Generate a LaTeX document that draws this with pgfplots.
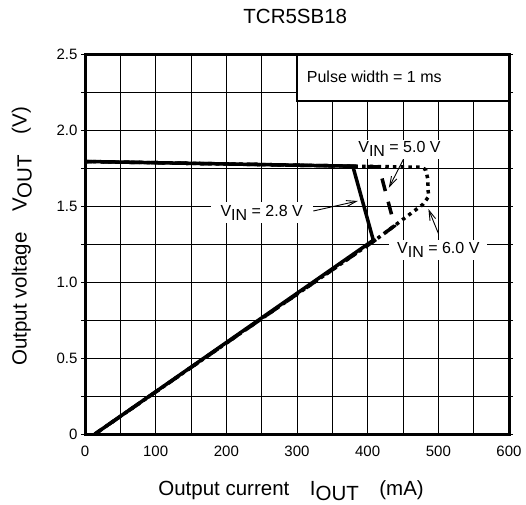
\documentclass[border=0pt]{standalone}
\usepackage{pgfplots}
\pgfplotsset{compat=1.18}
\usepackage{fontspec}
\setmainfont{Liberation Sans}
\usetikzlibrary{arrows.meta}

% lowered subscript, same size as in the datasheet
\newcommand{\lo}[1]{\raisebox{-0.25em}{#1}}

\begin{document}
\begin{tikzpicture}
\path[use as bounding box] (-85pt,-70pt) rectangle (441pt,434pt);
\begin{axis}[
    scale only axis,
    width=424pt, height=380pt,
    xmin=0, xmax=600, ymin=0, ymax=2.5,
    clip=false,
    xtick={0,100,200,300,400,500,600},
    minor xtick={50,150,250,350,450,550},
    ytick={0,0.5,1,1.5,2,2.5},
    yticklabels={0,0.5,1.0,1.5,2.0,2.5},
    minor ytick={0.25,0.75,1.25,1.75,2.25},
    grid=both,
    major grid style={black, line width=0.9pt},
    minor grid style={black, line width=0.9pt},
    axis line style={black, line width=3pt},
    tick align=outside,
    xtick style={draw=none},
    minor x tick style={draw=none},
    ytick style={black, line width=0.9pt},
    minor y tick style={black, line width=0.9pt},
    major tick length=4pt, minor tick length=4pt,
    /pgf/number format/assume math mode=true,
    tick label style={font=\fontsize{15}{18}\selectfont},
    xticklabel style={yshift=-4pt},
    title={TCR5SB18},
    title style={font=\fontsize{20.5}{24}\selectfont, at={(axis description cs:0.496,1.082)}, anchor=center},
    xlabel={Output current\quad I\lo{OUT}\quad (mA)},
    xlabel style={font=\fontsize{20.5}{24}\selectfont, at={(axis description cs:0.486,-0.150)}, anchor=center},
    ylabel={Output voltage\quad V\lo{OUT}\quad (V)},
    ylabel style={font=\fontsize{20.5}{24}\selectfont, at={(axis description cs:-0.149,0.52)}, anchor=center},
]

% VIN = 6.0 V
\addplot[black, line width=3.5pt, dash pattern=on 3.5pt off 4.2pt] coordinates {
    (0,1.793) (379,1.762) (475,1.755) (482,1.74) (485,1.68) (486,1.56)
    (478,1.51) (412,1.28) (14,0)
};
% VIN = 5.0 V
\addplot[black, line width=3.5pt, dash pattern=on 13pt off 11pt, dash phase=6pt] coordinates {
    (0,1.793) (379,1.762) (416,1.757) (438,1.37) (412,1.28) (14,0)
};
% VIN = 2.8 V
\addplot[black, line width=3.5pt] coordinates {
    (0,1.793) (379,1.762) (408,1.275) (14,0)
};

% pulse width box
\draw[black, line width=1.5pt, fill=white] (axis cs:300,2.19) rectangle (axis cs:600,2.5);
\draw[black, line width=3pt] (axis cs:300,2.5) -- (axis cs:600,2.5) -- (axis cs:600,2.19);
\node[anchor=west, font=\fontsize{16}{19}\selectfont] at (axis cs:309,2.35) {Pulse width = 1 ms};

% annotations
\draw[line width=0.9pt, -{Straight Barb[length=10pt,width=6pt]}] (axis cs:323,1.467) -- (axis cs:386,1.533);
\draw[line width=0.9pt, -{Straight Barb[length=10pt,width=6pt]}] (axis cs:452,1.82) -- (axis cs:430,1.62);
\draw[line width=0.9pt, -{Straight Barb[length=10pt,width=6pt]}] (axis cs:500,1.32) -- (axis cs:486,1.48);

\node[fill=white, inner xsep=10pt, inner ysep=3pt, font=\fontsize{16}{19}\selectfont] at (axis cs:250,1.457) {V\lo{IN} = 2.8 V};
\node[fill=white, inner xsep=3pt, inner ysep=2pt, font=\fontsize{16}{19}\selectfont] at (axis cs:445,1.873) {V\lo{IN} = 5.0 V};
\node[fill=white, inner xsep=8pt, inner ysep=2pt, font=\fontsize{16}{19}\selectfont] at (axis cs:500,1.211) {V\lo{IN} = 6.0 V};

\end{axis}
\end{tikzpicture}
\end{document}
